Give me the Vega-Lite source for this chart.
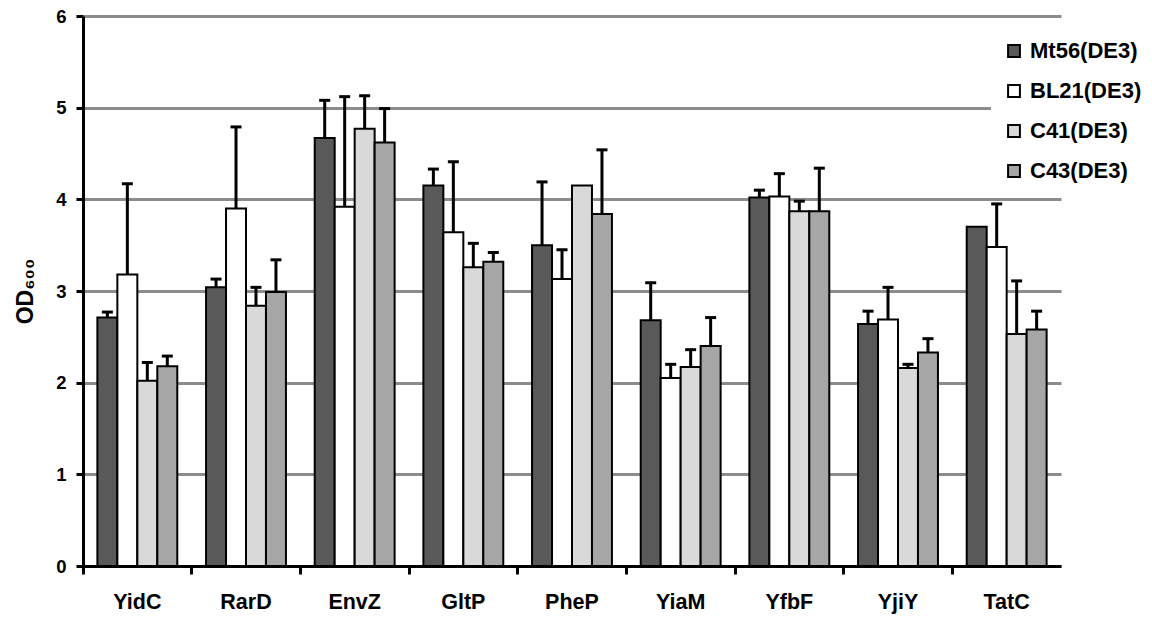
{
  "$schema": "https://vega.github.io/schema/vega-lite/v6.json",
  "width": 978,
  "height": 550,
  "autosize": "none",
  "padding": {"left": 83, "top": 16, "right": 91, "bottom": 53},
  "background": "white",
  "config": {
    "font": "Liberation Sans",
    "view": {"stroke": null}
  },
  "data": {
    "values": [
      {"protein": "YidC", "strain": "Mt56(DE3)", "od": 2.71, "hi": 2.77},
      {"protein": "YidC", "strain": "BL21(DE3)", "od": 3.18, "hi": 4.17},
      {"protein": "YidC", "strain": "C41(DE3)", "od": 2.02, "hi": 2.22},
      {"protein": "YidC", "strain": "C43(DE3)", "od": 2.18, "hi": 2.29},
      {"protein": "RarD", "strain": "Mt56(DE3)", "od": 3.04, "hi": 3.13},
      {"protein": "RarD", "strain": "BL21(DE3)", "od": 3.90, "hi": 4.79},
      {"protein": "RarD", "strain": "C41(DE3)", "od": 2.84, "hi": 3.04},
      {"protein": "RarD", "strain": "C43(DE3)", "od": 2.99, "hi": 3.34},
      {"protein": "EnvZ", "strain": "Mt56(DE3)", "od": 4.67, "hi": 5.08},
      {"protein": "EnvZ", "strain": "BL21(DE3)", "od": 3.92, "hi": 5.12},
      {"protein": "EnvZ", "strain": "C41(DE3)", "od": 4.77, "hi": 5.13},
      {"protein": "EnvZ", "strain": "C43(DE3)", "od": 4.62, "hi": 4.99},
      {"protein": "GltP", "strain": "Mt56(DE3)", "od": 4.15, "hi": 4.33},
      {"protein": "GltP", "strain": "BL21(DE3)", "od": 3.64, "hi": 4.41},
      {"protein": "GltP", "strain": "C41(DE3)", "od": 3.26, "hi": 3.52},
      {"protein": "GltP", "strain": "C43(DE3)", "od": 3.32, "hi": 3.42},
      {"protein": "PheP", "strain": "Mt56(DE3)", "od": 3.50, "hi": 4.19},
      {"protein": "PheP", "strain": "BL21(DE3)", "od": 3.13, "hi": 3.45},
      {"protein": "PheP", "strain": "C41(DE3)", "od": 4.15, "hi": null},
      {"protein": "PheP", "strain": "C43(DE3)", "od": 3.84, "hi": 4.54},
      {"protein": "YiaM", "strain": "Mt56(DE3)", "od": 2.68, "hi": 3.09},
      {"protein": "YiaM", "strain": "BL21(DE3)", "od": 2.05, "hi": 2.20},
      {"protein": "YiaM", "strain": "C41(DE3)", "od": 2.17, "hi": 2.36},
      {"protein": "YiaM", "strain": "C43(DE3)", "od": 2.40, "hi": 2.71},
      {"protein": "YfbF", "strain": "Mt56(DE3)", "od": 4.02, "hi": 4.10},
      {"protein": "YfbF", "strain": "BL21(DE3)", "od": 4.03, "hi": 4.28},
      {"protein": "YfbF", "strain": "C41(DE3)", "od": 3.87, "hi": 3.98},
      {"protein": "YfbF", "strain": "C43(DE3)", "od": 3.87, "hi": 4.34},
      {"protein": "YjiY", "strain": "Mt56(DE3)", "od": 2.64, "hi": 2.78},
      {"protein": "YjiY", "strain": "BL21(DE3)", "od": 2.69, "hi": 3.04},
      {"protein": "YjiY", "strain": "C41(DE3)", "od": 2.16, "hi": 2.20},
      {"protein": "YjiY", "strain": "C43(DE3)", "od": 2.33, "hi": 2.48},
      {"protein": "TatC", "strain": "Mt56(DE3)", "od": 3.70, "hi": null},
      {"protein": "TatC", "strain": "BL21(DE3)", "od": 3.48, "hi": 3.95},
      {"protein": "TatC", "strain": "C41(DE3)", "od": 2.53, "hi": 3.11},
      {"protein": "TatC", "strain": "C43(DE3)", "od": 2.58, "hi": 2.78}
    ]
  },
  "encoding": {
    "x": {
      "field": "protein",
      "type": "nominal",
      "sort": null,
      "scale": {"paddingInner": 0, "paddingOuter": 0},
      "axis": {
        "title": null,
        "labelAngle": 0,
        "labelFont": "Liberation Sans",
        "labelFontSize": 21.5,
        "labelFontWeight": "bold",
        "labelColor": "black",
        "labelPadding": 17,
        "bandPosition": 0,
        "tickSize": 8,
        "tickWidth": 3,
        "tickColor": "black",
        "domainColor": "black",
        "domainWidth": 3,
        "grid": false
      }
    },
    "xOffset": {
      "field": "strain",
      "type": "nominal",
      "sort": ["Mt56(DE3)", "BL21(DE3)", "C41(DE3)", "C43(DE3)"],
      "scale": {"paddingInner": 0, "paddingOuter": 0.72}
    }
  },
  "layer": [
    {
      "mark": {"type": "bar", "stroke": "black", "strokeWidth": 2},
      "encoding": {
        "y": {
          "field": "od",
          "type": "quantitative",
          "scale": {"domain": [0, 6], "nice": false},
          "axis": {
            "title": "OD₆₀₀",
            "titleFont": "Liberation Sans",
            "titleFontSize": 23,
            "titleFontWeight": "bold",
            "titleColor": "black",
            "titlePadding": 18,
            "values": [0, 1, 2, 3, 4, 5, 6],
            "format": "d",
            "labelFont": "Liberation Sans",
            "labelFontSize": 18.5,
            "labelFontWeight": "bold",
            "labelColor": "black",
            "labelPadding": 10,
            "tickSize": 7,
            "tickWidth": 3,
            "tickColor": "black",
            "domainColor": "black",
            "domainWidth": 3,
            "grid": true,
            "gridColor": "#8c8c8c",
            "gridWidth": 3
          }
        },
        "fill": {
          "field": "strain",
          "type": "nominal",
          "scale": {
            "domain": ["Mt56(DE3)", "BL21(DE3)", "C41(DE3)", "C43(DE3)"],
            "range": ["#595959", "#ffffff", "#d9d9d9", "#a6a6a6"]
          },
          "legend": {
            "title": null,
            "orient": "none",
            "legendX": 908,
            "legendY": 12,
            "padding": 12,
            "fillColor": "white",
            "symbolType": "square",
            "symbolSize": 140,
            "symbolStrokeColor": "black",
            "symbolStrokeWidth": 2,
            "labelFont": "Liberation Sans",
            "labelFontSize": 22,
            "labelFontWeight": "bold",
            "labelColor": "black",
            "labelOffset": 5,
            "rowPadding": 18,
            "labelLimit": 300
          }
        }
      }
    },
    {
      "transform": [{"filter": "datum.hi != null"}],
      "mark": {"type": "rule", "color": "black", "strokeWidth": 3},
      "encoding": {
        "y": {"field": "od", "type": "quantitative"},
        "y2": {"field": "hi"}
      }
    },
    {
      "transform": [{"filter": "datum.hi != null"}],
      "mark": {"type": "tick", "color": "black", "size": 11, "thickness": 3, "opacity": 1},
      "encoding": {
        "y": {"field": "hi", "type": "quantitative"}
      }
    }
  ]
}
